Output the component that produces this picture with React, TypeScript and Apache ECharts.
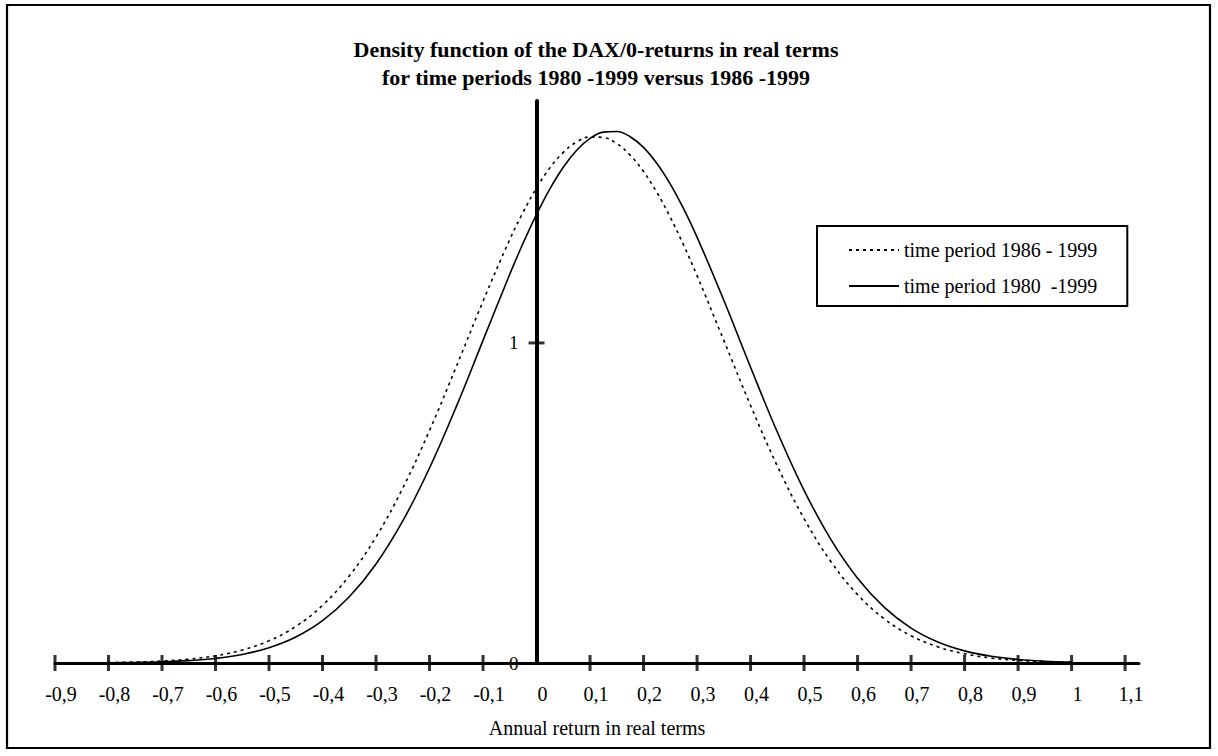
import React, { useEffect, useRef } from "react";
import * as echarts from "echarts";

const X_VALUES = [
  -0.8, -0.75, -0.7, -0.65, -0.6, -0.55, -0.5, -0.45, -0.4, -0.35, -0.3, -0.25,
  -0.2, -0.15, -0.1, -0.05, -0.025, 0, 0.025, 0.05, 0.075, 0.1, 0.125, 0.15,
  0.175, 0.2, 0.225, 0.25, 0.275, 0.3, 0.35, 0.4, 0.45, 0.5, 0.55, 0.6, 0.65,
  0.7, 0.75, 0.8, 0.85, 0.9, 0.95, 1.0,
];

// time period 1986 - 1999 (dashed)
const DENSITY_1986 = [
  0.0014, 0.0031, 0.0062, 0.0121, 0.0226, 0.0405, 0.0695, 0.1143, 0.1802, 0.2722,
  0.3939, 0.5465, 0.7266, 0.9259, 1.1306, 1.3232, 1.4089, 1.4842, 1.547, 1.5954,
  1.628, 1.6436, 1.6419, 1.6228, 1.587, 1.5355, 1.47, 1.3925, 1.3051, 1.2102,
  1.008, 0.8047, 0.6156, 0.4513, 0.3172, 0.2136, 0.1379, 0.0853, 0.0505, 0.0287,
  0.0156, 0.0082, 0.0041, 0.002,
];

// time period 1980 - 1999 (solid)
const DENSITY_1980 = [
  0.0008, 0.0017, 0.0036, 0.0074, 0.0143, 0.0267, 0.0475, 0.081, 0.1322, 0.2068,
  0.3095, 0.4439, 0.6093, 0.8009, 1.0081, 1.2149, 1.3122, 1.402, 1.4817, 1.5492,
  1.6022, 1.6391, 1.6588, 1.6606, 1.6444, 1.6109, 1.561, 1.4963, 1.4188, 1.3308,
  1.1334, 0.9242, 0.7217, 0.5396, 0.3863, 0.2648, 0.1738, 0.1092, 0.0657, 0.0379,
  0.0209, 0.011, 0.0056, 0.0027,
];

const X_TICK_LABELS = [
  -0.9, -0.8, -0.7, -0.6, -0.5, -0.4, -0.3, -0.2, -0.1, 0, 0.1, 0.2, 0.3, 0.4,
  0.5, 0.6, 0.7, 0.8, 0.9, 1.0, 1.1,
];
const X_TICK_MARKS = [
  -0.9, -0.8, -0.7, -0.6, -0.5, -0.4, -0.3, -0.2, -0.1, 0.1, 0.2, 0.3, 0.4,
  0.5, 0.6, 0.7, 0.8, 0.9, 1.0, 1.1,
];
const Y_TICK_LABELS = [0, 1];
const Y_TICK_MARKS = [1];

const SERIES_1986 = "time period 1986 - 1999";
const SERIES_1980 = "time period 1980  -1999";
const TITLE =
  "Density function of the DAX/0-returns in real terms\nfor time periods 1980 -1999 versus 1986 -1999";
const X_NAME = "Annual return in real terms";

const FONT = "'Liberation Serif', 'Times New Roman', serif";

export default function App() {
  const ref = useRef<HTMLDivElement>(null);

  useEffect(() => {
    if (!ref.current) return;
    const chart = echarts.init(ref.current, undefined, { renderer: "svg" });
    const fmt = (v: number) => String(Number(v.toFixed(2))).replace(".", ",");

    chart.setOption({
      animation: false,
      backgroundColor: "#fff",
      textStyle: { fontFamily: FONT },
      title: {
        text: TITLE,
        left: 596,
        top: 35,
        padding: 0,
        textAlign: "center",
        textStyle: {
          fontFamily: FONT,
          fontWeight: "bold",
          fontSize: 22,
          lineHeight: 28,
          color: "#000",
        },
      },
      legend: {
        data: [SERIES_1986, SERIES_1980],
        orient: "vertical",
        left: 817,
        top: 226,
        padding: [14, 30, 10, 31],
        itemWidth: 50,
        itemHeight: 20,
        itemGap: 16,
        borderColor: "#000",
        borderWidth: 2,
        selectedMode: false,
        itemStyle: { opacity: 0, color: "rgba(0,0,0,0)", borderWidth: 0 },
        textStyle: { fontFamily: FONT, fontSize: 20, color: "#000", lineHeight: 20 },
      },
      grid: { left: 55, right: 79, top: 101, bottom: 93, containLabel: false },
      xAxis: {
        type: "value",
        min: -0.9,
        max: 1.126,
        name: X_NAME,
        nameLocation: "middle",
        nameGap: 55,
        nameTextStyle: { fontFamily: FONT, fontSize: 20, color: "#000" },
        axisLine: { show: true, onZero: true, lineStyle: { color: "#000", width: 3 } },
        axisTick: { show: false },
        splitLine: { show: false },
        axisLabel: {
          customValues: X_TICK_LABELS,
          formatter: (v: number) => fmt(v),
          fontFamily: FONT,
          fontSize: 20,
          color: "#000",
          margin: 21,
          padding: [0, 0, 0, 12],
        },
      },
      yAxis: {
        type: "value",
        min: 0,
        max: 1.756,
        position: "left",
        offset: -481.5,
        axisLine: { show: true, onZero: false, lineStyle: { color: "#000", width: 4 } },
        axisTick: { show: false },
        splitLine: { show: false },
        axisLabel: {
          customValues: Y_TICK_LABELS,
          formatter: (v: number) => fmt(v),
          fontFamily: FONT,
          fontSize: 19,
          color: "#000",
          margin: 18,
        },
      },
      graphic: [
        {
          type: "rect",
          shape: { x: 7, y: 5, width: 1203, height: 743 },
          style: { fill: "none", stroke: "#000", lineWidth: 2.2 },
          silent: true,
          z: 100,
        },
      ],
      series: [
        {
          name: SERIES_1986,
          type: "line",
          smooth: 0.4,
          symbol: "none",
          data: X_VALUES.map((x, i) => [x, DENSITY_1986[i]]),
          lineStyle: { color: "#000", width: 1.6, type: [3, 4] },
          itemStyle: { color: "#000" },
          z: 3,
        },
        {
          name: SERIES_1980,
          type: "line",
          smooth: 0.4,
          symbol: "none",
          data: X_VALUES.map((x, i) => [x, DENSITY_1980[i]]),
          lineStyle: { color: "#000", width: 1.6, type: "solid" },
          itemStyle: { color: "#000" },
          z: 3,
        },
        {
          name: "xticks",
          type: "scatter",
          symbol: "rect",
          symbolSize: [3, 16],
          clip: false,
          silent: true,
          data: X_TICK_MARKS.map((x) => [x, 0]),
          itemStyle: { color: "#000" },
          z: 4,
        },
        {
          name: "yticks",
          type: "scatter",
          symbol: "rect",
          symbolSize: [16, 3],
          clip: false,
          silent: true,
          data: Y_TICK_MARKS.map((y) => [0, y]),
          itemStyle: { color: "#000" },
          z: 4,
        },
      ],
    });

    return () => chart.dispose();
  }, []);

  return (
    <div
      ref={ref}
      style={{ position: "absolute", left: 0, top: 0, width: 1218, height: 756 }}
    />
  );
}
